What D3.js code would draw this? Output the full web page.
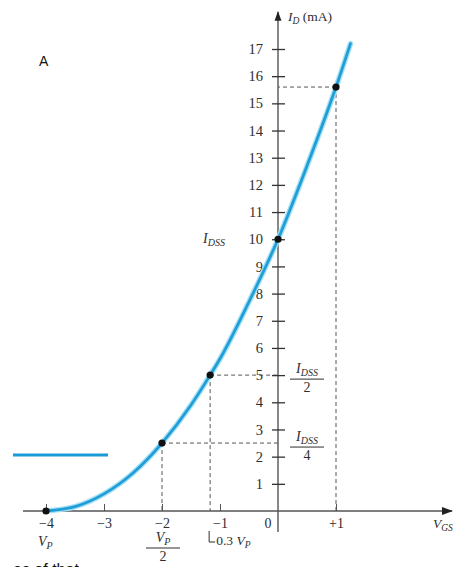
<!DOCTYPE html>
<html>
<head>
<meta charset="utf-8">
<script src="https://cdn.jsdelivr.net/npm/d3@7"></script>
<style>
  html, body { margin: 0; padding: 0; background: #fff; }
  svg { display: block; }
</style>
</head>
<body>
<svg id="chart" width="460" height="567"></svg>
<script>
// Transfer characteristic of an n-channel JFET (IDSS = 10 mA, VP = -4 V)
const vgsTicks = [-4, -3, -2, -1, 0, 1];
const vgsTickLabels = ["\u22124", "\u22123", "\u22122", "\u22121", "0", "+1"];
const idTicks = [1, 2, 3, 4, 5, 6, 7, 8, 9, 10, 11, 12, 13, 14, 15, 16, 17];

// Points along the curve: VGS (V) and ID (mA)
const curveVgs = [-4, -3.5, -3, -2.5, -2, -1.5, -1.17, -1, -0.5, 0, 0.5, 1, 1.25];
const curveId  = [0, 0.16, 0.63, 1.4, 2.5, 3.9, 5, 5.6, 7.7, 10, 12.7, 15.6, 17.2];

// Marked operating points
const markVgs = [-4, -2, -1.17, 0, 1];
const markId  = [0, 2.5, 5, 10, 15.6];

const svg = d3.select("#chart");
const x = d3.scaleLinear().domain([-4, 1]).range([46, 336]);
const y = d3.scaleLinear().domain([0, 17]).range([511, 49]);
const x0 = x(0), y0 = y(0);
const serif = "'Liberation Serif', 'DejaVu Serif', serif";
const ink = "#2e2e2e";

// Dashed guide lines
const guides = svg.append("g").attr("stroke", "#555").attr("stroke-width", 1)
  .attr("stroke-dasharray", "4,3").attr("fill", "none");
[[1, 15.6], [-1.17, 5], [-2, 2.5]].forEach(([v, i]) => {
  guides.append("line").attr("x1", x(v)).attr("x2", x0).attr("y1", y(i)).attr("y2", y(i));
  guides.append("line").attr("x1", x(v)).attr("x2", x(v)).attr("y1", y(i)).attr("y2", y0);
});

// Axes
const defs = svg.append("defs");
defs.append("marker").attr("id", "arrow").attr("viewBox", "0 0 10 10")
  .attr("refX", 9).attr("refY", 5).attr("markerWidth", 7).attr("markerHeight", 7)
  .attr("orient", "auto")
  .append("path").attr("d", "M0,1.5 L10,5 L0,8.5 Z").attr("fill", "#222");

svg.append("line").attr("x1", 23).attr("x2", 452).attr("y1", y0).attr("y2", y0)
  .attr("stroke", "#555").attr("stroke-width", 1.6).attr("marker-end", "url(#arrow)");
svg.append("line").attr("x1", x0).attr("x2", x0).attr("y1", 532).attr("y2", 12)
  .attr("stroke", "#555").attr("stroke-width", 1.4).attr("marker-end", "url(#arrow)");

// Vertical axis ticks crossing the axis
const yAxis = d3.axisLeft(y).tickValues(idTicks).tickSize(6).tickPadding(8);
const gy = svg.append("g").attr("transform", `translate(${x0},0)`).call(yAxis);
gy.select(".domain").remove();
gy.selectAll(".tick line").attr("x1", 7).attr("stroke", "#333").attr("stroke-width", 1.3);
gy.selectAll(".tick text").attr("font-family", serif).attr("font-size", 14.5)
  .attr("fill", ink).attr("dx", "-1");

// Horizontal axis ticks above the axis
const xAxis = d3.axisBottom(x).tickValues(vgsTicks.filter(v => v !== 0))
  .tickSize(-7).tickPadding(7).tickFormat((d) => vgsTickLabels[vgsTicks.indexOf(d)]);
const gx = svg.append("g").attr("transform", `translate(0,${y0})`).call(xAxis);
gx.select(".domain").remove();
gx.selectAll(".tick line").attr("stroke", "#555").attr("stroke-width", 1);
gx.selectAll(".tick text").attr("font-family", serif).attr("font-size", 14).attr("fill", ink);
svg.append("text").attr("x", x0 - 10).attr("y", y0 + 17).attr("text-anchor", "middle")
  .attr("font-family", serif).attr("font-size", 14).attr("fill", ink).text("0");

// Curve
const pts = curveVgs.map((v, i) => [v, curveId[i]]);
const line = d3.line().x(d => x(d[0])).y(d => y(d[1])).curve(d3.curveMonotoneX);
svg.append("path").datum(pts).attr("d", line).attr("fill", "none")
  .attr("stroke", "#a6e0f5").attr("stroke-width", 5.5).attr("stroke-linecap", "round");
svg.append("path").datum(pts).attr("d", line).attr("fill", "none")
  .attr("stroke", "#1f9ed8").attr("stroke-width", 2.8).attr("stroke-linecap", "round");

// Points
svg.append("g").selectAll("circle").data(markVgs).join("circle")
  .attr("cx", d => x(d)).attr("cy", (d, i) => y(markId[i])).attr("r", 3.6).attr("fill", "#111");

// Axis titles
const idLabel = svg.append("text").attr("x", x0 + 10).attr("y", 21)
  .attr("font-family", serif).attr("font-size", 13.5).attr("fill", ink);
idLabel.append("tspan").attr("font-style", "italic").text("I");
idLabel.append("tspan").attr("font-style", "italic").attr("font-size", 9.5).attr("dy", 3).text("D");
idLabel.append("tspan").attr("dy", -3).text(" (mA)");

const vLabel = svg.append("text").attr("x", 433).attr("y", 528)
  .attr("font-family", serif).attr("font-size", 13.5).attr("fill", ink);
vLabel.append("tspan").attr("font-style", "italic").text("V");
vLabel.append("tspan").attr("font-style", "italic").attr("font-size", 9.5).attr("dy", 3).text("GS");

// Annotation helpers
function sub(g, xx, yy, main, s, anchor) {
  const t = g.append("text").attr("x", xx).attr("y", yy).attr("text-anchor", anchor || "start")
    .attr("font-family", serif).attr("font-size", 14).attr("fill", ink).attr("font-style", "italic");
  t.append("tspan").text(main);
  t.append("tspan").attr("font-size", 10).attr("dy", 3).text(s);
  return t;
}
function frac(cx, top, main, s, den) {
  const g = svg.append("g");
  sub(g, cx, top, main, s, "middle");
  g.append("line").attr("x1", cx - 17).attr("x2", cx + 17).attr("y1", top + 6).attr("y2", top + 6)
    .attr("stroke", ink).attr("stroke-width", 1);
  g.append("text").attr("x", cx).attr("y", top + 19).attr("text-anchor", "middle")
    .attr("font-family", serif).attr("font-size", 14).attr("fill", ink).text(den);
}

sub(svg, 203, y(10) + 4, "I", "DSS");
frac(307, y(5) - 2, "I", "DSS", "2");
frac(307, y(2.5) - 2, "I", "DSS", "4");

// Labels under the horizontal axis
sub(svg, x(-4) - 8, 546, "V", "P");
frac(x(-2) + 1, 542, "V", "P", "2");
const vp3 = svg.append("text").attr("x", x(-1.17) + 6).attr("y", 545)
  .attr("font-family", serif).attr("font-size", 13.5).attr("fill", ink);
vp3.append("tspan").text("0.3 ");
vp3.append("tspan").attr("font-style", "italic").text("V");
vp3.append("tspan").attr("font-style", "italic").attr("font-size", 9.5).attr("dy", 3).text("P");
svg.append("path").attr("d", `M${x(-1.17) - 1},531 V542 H${x(-1.17) + 5}`)
  .attr("fill", "none").attr("stroke", ink).attr("stroke-width", 1);

// Surrounding page elements
svg.append("text").attr("x", 39).attr("y", 66).attr("font-family", "'Liberation Sans', Arial, sans-serif")
  .attr("font-size", 14).attr("fill", "#111").text("A");
svg.append("line").attr("x1", 13).attr("x2", 108).attr("y1", 455).attr("y2", 455)
  .attr("stroke", "#1a9ad6").attr("stroke-width", 3);
svg.append("text").attr("x", 13).attr("y", 575).attr("font-family", "'Liberation Sans', Arial, sans-serif")
  .attr("font-size", 16).attr("fill", "#111").text("es of that");
</script>
</body>
</html>
